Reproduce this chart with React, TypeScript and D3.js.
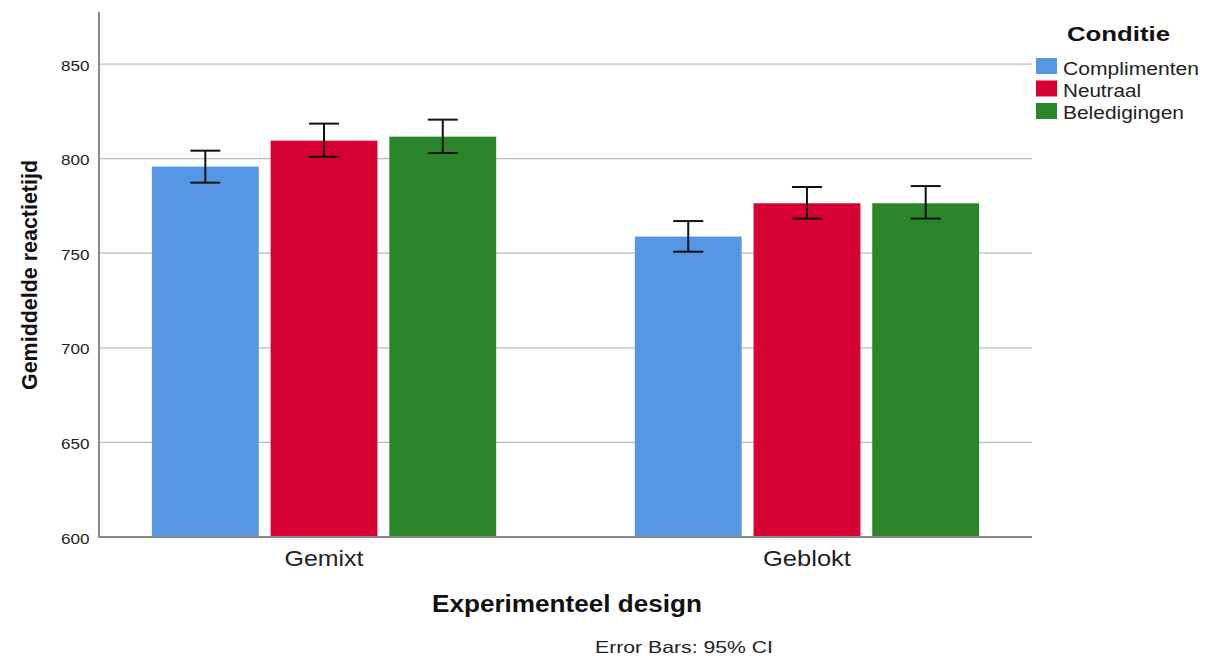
import React from "react";
import * as d3 from "d3";

const categories = ["Gemixt", "Geblokt"];
const series = ["Complimenten", "Neutraal", "Beledigingen"];
const colors = ["#5597e3", "#d60032", "#2a852a"];
const means = [
  [795.8, 809.5, 811.6],
  [758.8, 776.4, 776.4],
];
const ciLow = [
  [787.3, 801.0, 803.0],
  [750.8, 768.3, 768.3],
];
const ciHigh = [
  [804.2, 818.5, 820.6],
  [767.0, 785.0, 785.5],
];
const yTicks = [600, 650, 700, 750, 800, 850];

const W = 1208, H = 656;
const left = 99, right = 1032, top = 12, bottom = 537;

const catWidths: Record<string, number> = { Gemixt: 79, Geblokt: 88 };
const legWidths = [136, 78, 121];

export default function App() {
  const y = d3.scaleLinear().domain([600, 877.5]).range([bottom, top]);
  const x0 = d3.scaleBand<string>().domain(categories).range([left, right]).paddingInner(0.287).paddingOuter(0.1095);
  const x1 = d3.scaleBand<string>().domain(series).range([0, x0.bandwidth()]).paddingInner(0.1);
  const font = "'Liberation Sans', Arial, sans-serif";
  return (
    <svg width={W} height={H} style={{ position: "absolute", left: 0, top: 0, background: "#fff" }} fontFamily={font}>
      {yTicks.map((t) => (
        <g key={t}>
          {t > 600 && <line x1={left} x2={right} y1={y(t)} y2={y(t)} stroke="#bcbcbc" strokeWidth={1.2} />}
          <text x={89.5} y={y(t) + 6.5} textAnchor="end" fontSize={15} fill="#222" textLength={28.5} lengthAdjust="spacingAndGlyphs">{t}</text>
        </g>
      ))}
      {categories.map((c, ci) => (
        <g key={c} transform={`translate(${x0(c)},0)`}>
          {series.map((s, si) => {
            const bx = x1(s)!;
            const cx = bx + x1.bandwidth() / 2;
            return (
              <g key={s}>
                <rect x={bx} y={y(means[ci][si])} width={x1.bandwidth()} height={bottom - y(means[ci][si])} fill={colors[si]} />
                <line x1={cx} x2={cx} y1={y(ciHigh[ci][si])} y2={y(ciLow[ci][si])} stroke="#111" strokeWidth={2} />
                <line x1={cx - 15} x2={cx + 15} y1={y(ciHigh[ci][si])} y2={y(ciHigh[ci][si])} stroke="#111" strokeWidth={2} />
                <line x1={cx - 15} x2={cx + 15} y1={y(ciLow[ci][si])} y2={y(ciLow[ci][si])} stroke="#111" strokeWidth={2} />
              </g>
            );
          })}
          <text x={x0.bandwidth() / 2} y={566} textAnchor="middle" fontSize={22} fill="#222" textLength={catWidths[c]} lengthAdjust="spacingAndGlyphs">{c}</text>
        </g>
      ))}
      <line x1={left} x2={left} y1={top} y2={bottom + 1} stroke="#888" strokeWidth={2} />
      <line x1={left} x2={right} y1={bottom} y2={bottom} stroke="#888" strokeWidth={2} />
      <text transform={`translate(37,${(160 + 390) / 2}) rotate(-90)`} textAnchor="middle" fontSize={22} fontWeight="bold" fill="#111" textLength={230} lengthAdjust="spacingAndGlyphs">Gemiddelde reactietijd</text>
      <text x={567} y={612} textAnchor="middle" fontSize={23} fontWeight="bold" fill="#111" textLength={270} lengthAdjust="spacingAndGlyphs">Experimenteel design</text>
      <text x={684} y={653} textAnchor="middle" fontSize={16.5} fill="#222" textLength={178} lengthAdjust="spacingAndGlyphs">Error Bars: 95% CI</text>
      <text x={1118.5} y={41} textAnchor="middle" fontSize={21} fontWeight="bold" fill="#111" textLength={103} lengthAdjust="spacingAndGlyphs">Conditie</text>
      {series.map((s, i) => (
        <g key={s}>
          <rect x={1036} y={58 + i * 22.5} width={21} height={16} fill={colors[i]} />
          <text x={1063} y={75 + i * 22} fontSize={17.5} fill="#222" textLength={legWidths[i]} lengthAdjust="spacingAndGlyphs">{s}</text>
        </g>
      ))}
    </svg>
  );
}
